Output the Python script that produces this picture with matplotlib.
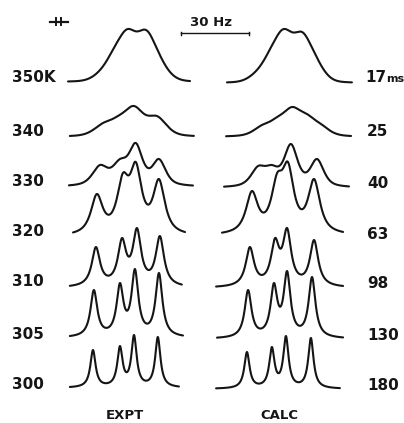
import numpy as np
import matplotlib
matplotlib.use("Agg")
import matplotlib.pyplot as plt
from matplotlib.lines import Line2D

# ---------------- data ----------------
temps = ["350K", "340", "330", "320", "310", "305", "300"]
rates = ["17", "25", "40", "63", "98", "130", "180"]
rate_unit = "ms"
col_titles = ["EXPT", "CALC"]
scale_hz = 30

# vertical stacking offsets (intensity units)
expt_offset = [341, 286, 236, 186, 135, 85, 35]
calc_offset = [340, 286, 235, 187, 135, 84, 34]

# line positions (Hz from spectrum centre), observed heights, half widths (Hz), Lorentz fraction
expt_pos = [[-13.2, -7.1, -0.9, 7.1, 13.2, 18.5], [-11.9, -5.3, 1.8, 11.9],
            [-13.2, -4.4, 2.6, 12.8], [-14.6, -3.1, 2.6, 12.8], [-15.0, -3.5, 3.1, 13.2],
            [-15.9, -4.4, 2.2, 12.8], [-16.3, -4.4, 1.8, 12.3]]
expt_height = [[12, 34, 53, 52, 27, 8], [14, 21, 31, 21], [22, 28, 44, 28], [43, 64, 75, 58],
               [41, 50, 60, 52], [48, 55, 69, 65], [38, 42, 53, 51]]
expt_hwhm = [[4.6, 4.6, 4.6, 4.6, 4.6, 4.6], [5.0, 5.0, 5.0, 5.0], [4.0, 4.0, 3.5, 3.5],
             [3.1, 3.1, 3.1, 3.1], [2.2, 2.2, 2.2, 2.2], [1.8, 1.8, 1.8, 1.8],
             [1.4, 1.4, 1.4, 1.4]]
expt_eta = [0.15, 0.4, 0.6, 0.9, 1.0, 1.0, 1.0]
expt_range = [(-27.3, 26.5), (-26.5, 28.2), (-26.9, 27.8), (-25.1, 24.3), (-26.5, 22.9),
              (-26.5, 23.4), (-26.5, 21.6)]

calc_pos = [[-11.9, -5.7, 0.4, 8.4, 14.6, 19.8], [-9.3, -2.6, 4.0, 10.6, 16.8],
            [-11.0, -4.9, 3.5, 15.0], [-13.7, -2.6, 2.2, 13.7], [-14.6, -3.5, 1.8, 13.7],
            [-15.4, -4.0, 1.8, 12.8], [-15.9, -4.9, 1.3, 12.3]]
calc_height = [[12, 34, 54, 51, 27, 8], [12, 20, 30, 23, 13], [22, 23, 44, 29],
               [45, 63, 74, 57], [41, 50, 60, 48], [49, 56, 68, 62], [37, 42, 53, 51]]
calc_hwhm = [[4.6, 4.6, 4.6, 4.6, 4.6, 4.6], [4.6, 4.6, 4.6, 4.6, 4.6], [3.8, 3.8, 3.5, 3.5],
             [3.1, 3.1, 3.1, 3.1], [2.2, 2.2, 2.2, 2.2], [1.8, 1.8, 1.8, 1.8],
             [1.4, 1.4, 1.4, 1.4]]
calc_eta = [0.15, 0.4, 0.6, 0.9, 1.0, 1.0, 1.0]
calc_range = [(-24.7, 30.4), (-25.1, 30.0), (-26.0, 29.1), (-26.9, 26.5), (-29.5, 26.5),
              (-29.1, 26.5), (-29.5, 25.1)]

# ---------------- helpers ----------------
def shape(x, x0, w, eta):
    u = (x - x0) / w
    return eta / (1 + u ** 2) + (1 - eta) * np.exp(-np.log(2) * u ** 2)

def spectrum(x, pos, height, hwhm, eta):
    pos = np.asarray(pos, float)
    M = np.array([[shape(p, q, w, eta) for q, w in zip(pos, hwhm)] for p in pos])
    amp = np.clip(np.linalg.solve(M, np.asarray(height, float)), 0, None)
    y = np.zeros_like(x)
    for a, q, w in zip(amp, pos, hwhm):
        y += a * shape(x, q, w, eta)
    return y

# ---------------- figure ----------------
W, H = 404, 423
fig = plt.figure(figsize=(W / 100, H / 100), dpi=100)
fig.patch.set_facecolor("white")
ax = fig.add_axes([0, 0, 1, 1])
ax.set_xlim(0, W * 0.441)
ax.set_ylim(0, H)
ax.axis("off")

centres = [57.3, 124.8]
lw = 1.5
col = "#151515"

for ci, (pos_l, h_l, w_l, eta_l, rng_l, off_l) in enumerate([
        (expt_pos, expt_height, expt_hwhm, expt_eta, expt_range, expt_offset),
        (calc_pos, calc_height, calc_hwhm, calc_eta, calc_range, calc_offset)]):
    for i in range(len(temps)):
        x = np.linspace(rng_l[i][0], rng_l[i][1], 800)
        y = spectrum(x, pos_l[i], h_l[i], w_l[i], eta_l[i])
        ax.plot(x + centres[ci], y + off_l[i], color=col, lw=lw, solid_capstyle="round")

# 30 Hz scale bar
bar_x0 = 79.8
bar_y = H - 33
ax.plot([bar_x0, bar_x0 + scale_hz], [bar_y, bar_y], color=col, lw=1.0)
ax.plot([bar_x0, bar_x0], [bar_y - 1.5, bar_y + 1.5], color=col, lw=1.0)
ax.plot([bar_x0 + scale_hz, bar_x0 + scale_hz], [bar_y - 1.5, bar_y + 1.5], color=col, lw=1.0)

fam = "DejaVu Sans"
def ftext(x, y, s, size=11, ha="left", va="center", **kw):
    fig.text(x / W, 1 - y / H, s, ha=ha, va=va, fontsize=size,
             fontweight="bold", family=fam, color=col, **kw)

ftext(211, 22, f"{scale_hz} Hz", size=9.5, ha="center")

# small linewidth marker top-left
fig.add_artist(Line2D([50 / W, 68 / W], [1 - 22 / H, 1 - 22 / H], color=col, lw=1.6))
for xx in (56, 61):
    fig.add_artist(Line2D([xx / W, xx / W], [1 - 18.5 / H, 1 - 25.5 / H], color=col, lw=1.4))

left_y = [77, 132, 182, 231, 281, 334, 384]
right_y = [77, 132, 183, 234, 283, 335, 385]
for t, yy in zip(temps, left_y):
    ftext(12, yy, t, size=11)
for k, (r, yy) in enumerate(zip(rates, right_y)):
    if k == 0:
        ftext(365, 82, r, size=11, va="baseline")
    else:
        ftext(367, yy, r, size=11)
# unit after the first rate
ftext(386, 82, rate_unit, size=8, va="baseline")

ftext(125, 415, col_titles[0], size=9.5, ha="center")
ftext(279, 415, col_titles[1], size=9.5, ha="center")

fig.savefig("out.png", dpi=100, facecolor="white")
